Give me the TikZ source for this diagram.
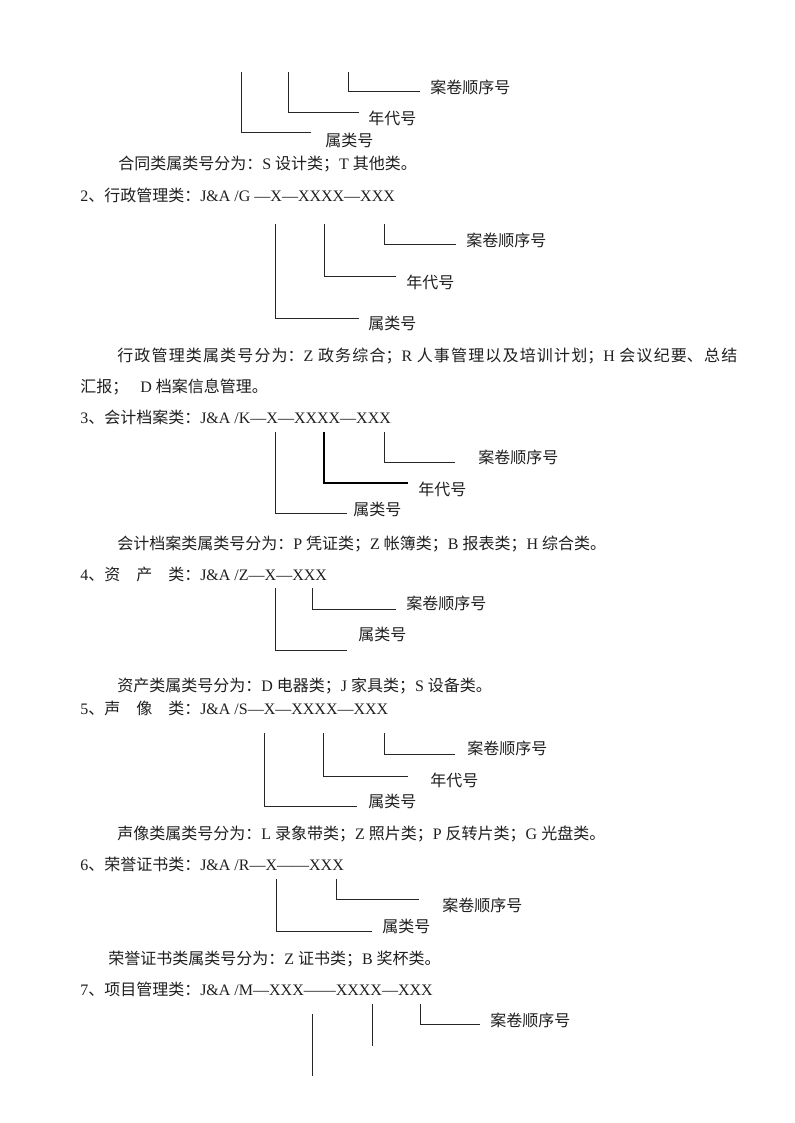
\documentclass[tikz,border=0pt]{standalone}
\usepackage{fontspec}
\setmainfont{Noto Sans CJK SC}
\newfontfamily\latinfont{Liberation Serif}
\newcommand\Lat[1]{{\latinfont #1}}
\begin{document}
\begin{tikzpicture}[x=0.75pt,y=-0.75pt,
  txt/.style={anchor=base west, inner sep=0pt, text=black!88, font=\fontsize{12pt}{14pt}\selectfont},
  br/.style={draw=black!85, line width=0.75pt},
  brthick/.style={draw=black, line width=1.5pt}]
\useasboundingbox[fill=white] (0,0) rectangle (794,1123);

% ---------- section 1 (continued) ----------
\coordinate (s1at) at (241,72);  \coordinate (s1ae) at (311,133);
\coordinate (s1bt) at (288,72);  \coordinate (s1be) at (359,113);
\coordinate (s1ct) at (348,72);  \coordinate (s1ce) at (420,92);
\draw[br] (s1at) |- (s1ae);
\draw[br] (s1bt) |- (s1be);
\draw[br] (s1ct) |- (s1ce);
\node[txt] (s1c) at (430,94) {案卷顺序号};
\node[txt] (s1b) at (368,125) {年代号};
\node[txt] (s1a) at (325,147) {属类号};
\node[txt] (p1) at (118,170) {合同类属类号分为：\Lat{S }设计类；\Lat{T }其他类。};

% ---------- section 2 ----------
\node[txt] (h2) at (80,202) {\Lat{2}、行政管理类：\Lat{J\&A /G —X—XXXX—XXX}};
\coordinate (s2at) at (275,224); \coordinate (s2ae) at (359,318);
\coordinate (s2bt) at (324,224); \coordinate (s2be) at (396,276);
\coordinate (s2ct) at (384,224); \coordinate (s2ce) at (456,244);
\draw[br] (s2at) |- (s2ae);
\draw[br] (s2bt) |- (s2be);
\draw[br] (s2ct) |- (s2ce);
\node[txt] (s2c) at (466,246) {案卷顺序号};
\node[txt] (s2b) at (406,288) {年代号};
\node[txt] (s2a) at (368,329) {属类号};
\node[txt] (p2) at (117,361) {\parbox[b]{465pt}{\parindent=0pt\parfillskip=0pt\XeTeXlinebreaklocale "zh"\XeTeXlinebreakskip=0pt plus 3pt 行政管理类属类号分为：\Lat{Z }政务综合；\Lat{R }人事管理以及培训计划；\Lat{H }会议纪要、总结}};
\node[txt] (p2b) at (80,392) {汇报；\hspace{9pt}\Lat{D }档案信息管理。};

% ---------- section 3 ----------
\node[txt] (h3) at (80,423) {\Lat{3}、会计档案类：\Lat{J\&A /K—X—XXXX—XXX}};
\coordinate (s3at) at (275,432); \coordinate (s3ae) at (347,513);
\coordinate (s3bt) at (324,432); \coordinate (s3be) at (408,483);
\coordinate (s3ct) at (384,432); \coordinate (s3ce) at (455,462);
\draw[br] (s3at) |- (s3ae);
\draw[brthick] (s3bt) |- (s3be);
\draw[br] (s3ct) |- (s3ce);
\node[txt] (s3c) at (478,463) {案卷顺序号};
\node[txt] (s3b) at (418,495) {年代号};
\node[txt] (s3a) at (353,515) {属类号};
\node[txt] (p3) at (117,549) {会计档案类属类号分为：\Lat{P }凭证类；\Lat{Z }帐簿类；\Lat{B }报表类；\Lat{H }综合类。};

% ---------- section 4 ----------
\node[txt] (h4) at (80,580) {\Lat{4}、资\hspace{1em}产\hspace{1em}类：\Lat{J\&A /Z—X—XXX}};
\coordinate (s4at) at (275,588); \coordinate (s4ae) at (347,650);
\coordinate (s4bt) at (312,588); \coordinate (s4be) at (396,609);
\draw[br] (s4at) |- (s4ae);
\draw[br] (s4bt) |- (s4be);
\node[txt] (s4b) at (406,609) {案卷顺序号};
\node[txt] (s4a) at (358,640) {属类号};
\node[txt] (p4) at (117,691) {资产类属类号分为：\Lat{D }电器类；\Lat{J }家具类；\Lat{S }设备类。};

% ---------- section 5 ----------
\node[txt] (h5) at (80,714) {\Lat{5}、声\hspace{1em}像\hspace{1em}类：\Lat{J\&A /S—X—XXXX—XXX}};
\coordinate (s5at) at (264,733); \coordinate (s5ae) at (357,806);
\coordinate (s5bt) at (323,733); \coordinate (s5be) at (408,776);
\coordinate (s5ct) at (384,733); \coordinate (s5ce) at (455,754);
\draw[br] (s5at) |- (s5ae);
\draw[br] (s5bt) |- (s5be);
\draw[br] (s5ct) |- (s5ce);
\node[txt] (s5c) at (467,754) {案卷顺序号};
\node[txt] (s5b) at (430,786) {年代号};
\node[txt] (s5a) at (368,807) {属类号};
\node[txt] (p5) at (117,839) {声像类属类号分为：\Lat{L }录象带类；\Lat{Z }照片类；\Lat{P }反转片类；\Lat{G }光盘类。};

% ---------- section 6 ----------
\node[txt] (h6) at (80,870) {\Lat{6}、荣誉证书类：\Lat{J\&A /R—X——XXX}};
\coordinate (s6at) at (276,879); \coordinate (s6ae) at (372,931);
\coordinate (s6bt) at (336,879); \coordinate (s6be) at (419,899);
\draw[br] (s6at) |- (s6ae);
\draw[br] (s6bt) |- (s6be);
\node[txt] (s6b) at (442,911) {案卷顺序号};
\node[txt] (s6a) at (382,932) {属类号};
\node[txt] (p6) at (108,964) {荣誉证书类属类号分为：\Lat{Z }证书类；\Lat{B }奖杯类。};

% ---------- section 7 ----------
\node[txt] (h7) at (80,995) {\Lat{7}、项目管理类：\Lat{J\&A /M—XXX——XXXX—XXX}};
\coordinate (s7at) at (312,1014); \coordinate (s7ab) at (312,1076);
\coordinate (s7bt) at (372,1004); \coordinate (s7bb) at (372,1046);
\coordinate (s7ct) at (420,1004); \coordinate (s7ce) at (480,1024);
\draw[br] (s7at) -- (s7ab);
\draw[br] (s7bt) -- (s7bb);
\draw[br] (s7ct) |- (s7ce);
\node[txt] (s7c) at (490,1026) {案卷顺序号};
\end{tikzpicture}
\end{document}
